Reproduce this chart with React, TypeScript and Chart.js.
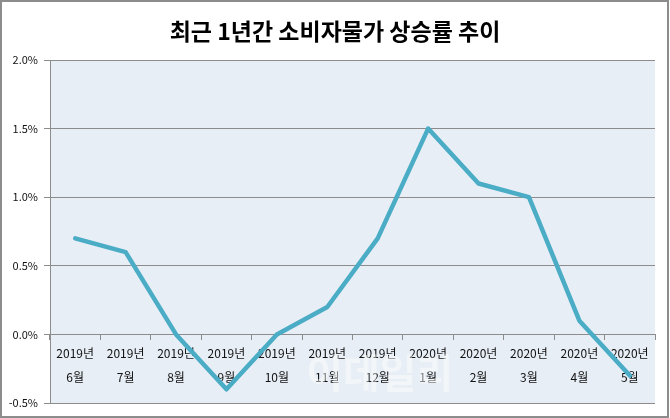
import React, { useEffect, useRef } from "react";
import { Chart, registerables } from "chart.js";

Chart.register(...registerables);

const TITLE = "최근 1년간 소비자물가 상승률 추이";
const YEARS = ["2019년", "2019년", "2019년", "2019년", "2019년", "2019년", "2019년", "2020년", "2020년", "2020년", "2020년", "2020년"];
const MONTHS = ["6월", "7월", "8월", "9월", "10월", "11월", "12월", "1월", "2월", "3월", "4월", "5월"];
const CPI_RATE = [0.7, 0.6, 0.0, -0.4, 0.0, 0.2, 0.7, 1.5, 1.1, 1.0, 0.1, -0.3];
const Y_MIN = -0.5;
const Y_MAX = 2.0;
const Y_STEP = 0.5;
const WATERMARK = "이데일리";

const FONT = "'Noto Sans CJK KR', 'Noto Sans', sans-serif";

const decorPlugin = {
  id: "decor",
  beforeDraw(chart: any) {
    const { ctx, chartArea } = chart;
    ctx.save();
    ctx.fillStyle = "#ffffff";
    ctx.fillRect(0, 0, chart.width, chart.height);
    ctx.fillStyle = "#e7eef5";
    ctx.fillRect(chartArea.left, chartArea.top, chartArea.right - chartArea.left, chartArea.bottom - chartArea.top);
    ctx.restore();
  },
  beforeDatasetsDraw(chart: any) {
    const { ctx, chartArea } = chart;
    ctx.save();
    ctx.fillStyle = "rgba(255,255,255,0.45)";
    ctx.font = `bold 40px ${FONT}`;
    ctx.textAlign = "center";
    ctx.textBaseline = "middle";
    ctx.fillText(WATERMARK, chartArea.left + (chartArea.right - chartArea.left) * 0.545, chartArea.bottom - 30);
    ctx.restore();
  },
  afterDraw(chart: any) {
    const { ctx } = chart;
    ctx.save();
    ctx.fillStyle = "#000000";
    ctx.font = `bold 23px ${FONT}`;
    ctx.textAlign = "center";
    ctx.textBaseline = "middle";
    ctx.fillText(TITLE, chart.width / 2, 31);
    ctx.strokeStyle = "#8c8c8c";
    ctx.lineWidth = 2;
    ctx.strokeRect(1, 1, chart.width - 3, chart.height - 2);
    ctx.restore();
  },
};

export default function App() {
  const ref = useRef<HTMLCanvasElement | null>(null);

  useEffect(() => {
    document.body.style.margin = "0";
    if (!ref.current) return;
    const labels = YEARS.map((y, i) => [y, MONTHS[i]]);
    const chart = new Chart(ref.current, {
      type: "line",
      data: {
        labels,
        datasets: [
          {
            data: CPI_RATE,
            borderColor: "#4bacc6",
            borderWidth: 4.5,
            pointRadius: 0,
            tension: 0,
            borderCapStyle: "round",
            borderJoinStyle: "round",
          },
        ],
      },
      options: {
        responsive: false,
        animation: false,
        events: [],
        layout: { padding: { top: 60, left: 0, right: 15, bottom: 15 } },
        plugins: { legend: { display: false }, title: { display: false }, tooltip: { enabled: false } },
        scales: {
          x: {
            type: "category",
            position: { y: 0 } as any,
            offset: true,
            grid: { display: true, offset: true, drawOnChartArea: false, drawTicks: true, tickLength: 5, color: "#8c8c8c" },
            border: { display: true, color: "#8c8c8c", width: 1 },
            ticks: {
              color: "#111111",
              font: { family: FONT, size: 12, lineHeight: 1.92 },
              padding: 3,
              maxRotation: 0,
              autoSkip: false,
            },
          },
          y: {
            min: Y_MIN,
            max: Y_MAX,
            afterFit(scale: any) {
              scale.width = 50;
            },
            grid: { color: "#8c8c8c", tickLength: 6, drawTicks: true },
            border: { display: true, color: "#8c8c8c" },
            ticks: {
              stepSize: Y_STEP,
              color: "#111111",
              font: { family: FONT, size: 11 },
              padding: 6,
              callback: (v: any) => Number(v).toFixed(1) + "%",
            },
          },
        },
      },
      plugins: [decorPlugin],
    });
    return () => chart.destroy();
  }, []);

  return (
    <div style={{ width: 670, height: 418 }}>
      <canvas ref={ref} width={670} height={418} style={{ display: "block" }} />
    </div>
  );
}
